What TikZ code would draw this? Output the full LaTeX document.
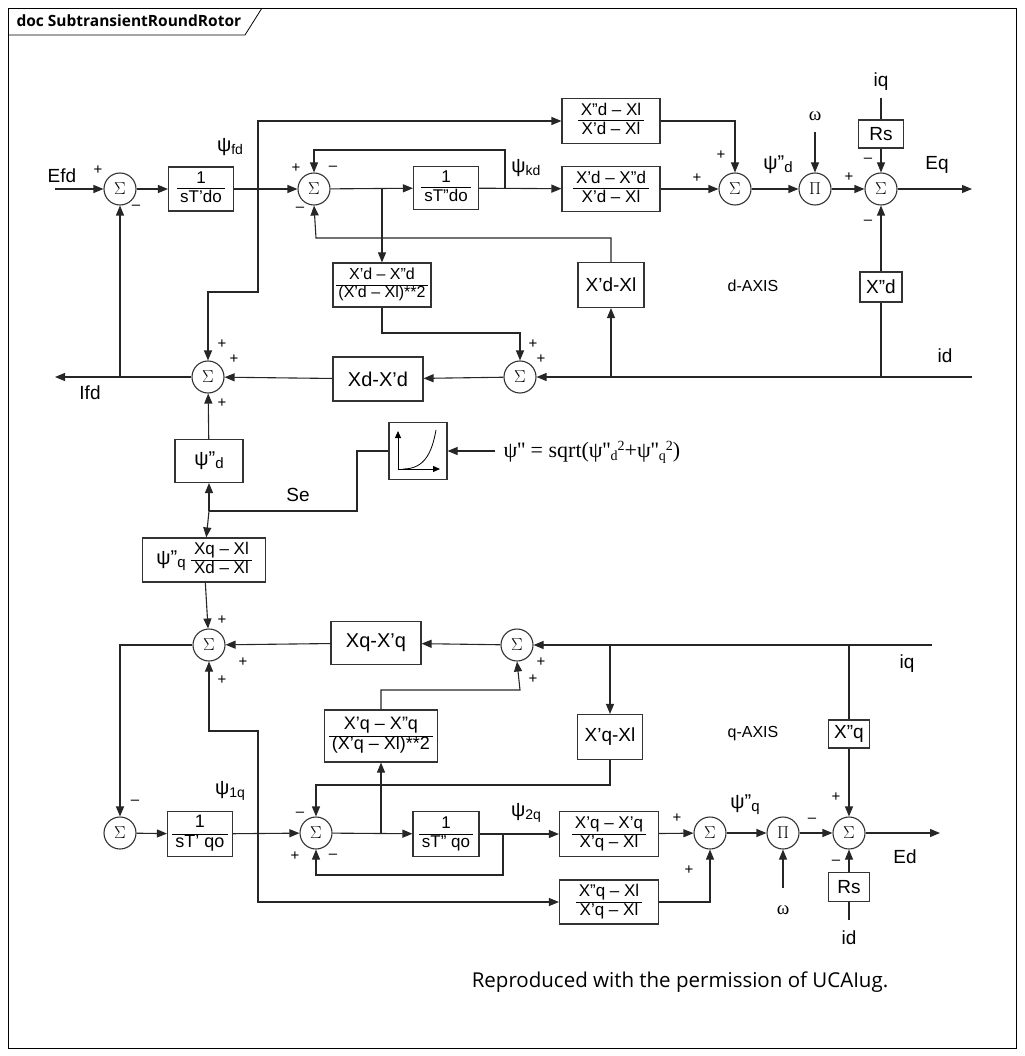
\documentclass[tikz,border=0pt]{standalone}
\usepackage{fontspec}
\setmainfont{Liberation Sans}
\newfontfamily\serifx{Liberation Serif}
\newfontfamily\uifont{Open Sans}
\usetikzlibrary{arrows.meta}
\newcommand{\frc}[2]{\setlength{\arrayrulewidth}{1pt}\renewcommand{\arraystretch}{1.0}\begin{tabular}{@{\,}c@{\,}}#1\\\hline #2\end{tabular}}
\newcommand{\psub}[2]{ψ#1\raisebox{-3pt}{\fontsize{14}{14}\selectfont #2}}
\begin{document}
\begin{tikzpicture}[x=1pt,y=-1pt,
  every node/.style={font=\fontsize{18}{20}\selectfont},
  ln/.style={line width=1.1pt,draw=black!85},
  arr/.style={ln,-{Triangle[length=10pt,width=8pt]}},
  blk/.style={draw=black!80,line width=1.1pt,inner sep=0pt,font=\fontsize{17}{18}\selectfont},
  sm/.style={draw=black!80,line width=1.1pt,circle,minimum size=32pt,inner sep=0pt,font=\fontsize{18}{18}\selectfont},
  sg/.style={font=\fontsize{15}{15}\selectfont,inner sep=0pt}]
\useasboundingbox (0,0) rectangle (1024,1056);
% frame
\draw[line width=0.8pt] (8,8) rectangle (1016,1048);
\draw[line width=0.8pt] (8,35) -- (245,35) -- (262,8);
\node[anchor=west,font=\uifont\bfseries\fontsize{15.5}{15.5}\selectfont] (title) at (13,21) {doc SubtransientRoundRotor};
\node[font=\uifont\fontsize{20.5}{20.5}\selectfont] (foot) at (680,982) {Reproduced with the permission of UCAIug.};

% ---- d axis ----
\node[sm] (S1) at (120,189) {$\Sigma$};
\node[blk,minimum width=65pt,minimum height=44pt] (B1) at (201,189) {\frc{1}{sT'do}};
\node[sm] (S2) at (314,189) {$\Sigma$};
\node[blk,minimum width=65pt,minimum height=43pt] (B2) at (446,188) {\frc{1}{sT''do}};
\node[blk,minimum width=98pt,minimum height=45pt] (B3) at (611,121) {\frc{X''d -- Xl}{X'd -- Xl}};
\node[blk,minimum width=98pt,minimum height=45pt] (B4) at (611,189) {\frc{X'd -- X''d}{X'd -- Xl}};
\node[sm] (S3) at (735,189) {$\Sigma$};
\node[sm] (P1) at (815,189) {$\Pi$};
\node[sm] (S4) at (881,189) {$\Sigma$};
\node[blk,minimum width=45pt,minimum height=28pt,font=\fontsize{19}{19}\selectfont] (Rs1) at (881,134) {Rs};
\node[blk,minimum width=42pt,minimum height=30pt,font=\fontsize{19}{19}\selectfont] (Xdd) at (881,287) {X''d};
\node[blk,minimum width=66pt,minimum height=45pt,font=\fontsize{19}{19}\selectfont] (XdXl) at (611,285) {X'd-Xl};
\node[blk,minimum width=98pt,minimum height=44pt,font=\fontsize{16}{17}\selectfont] (B5) at (382,285) {\frc{X'd -- X''d}{(X'd -- Xl)**2}};
\node[sm] (S6) at (520,377) {$\Sigma$};
\node[blk,minimum width=90pt,minimum height=44pt,font=\fontsize{20}{20}\selectfont] (XdXpd) at (378,379) {Xd-X'd};
\node[sm] (S5) at (208,377) {$\Sigma$};

\node[font=\fontsize{19}{19}\selectfont] (Efd) at (62,176) {Efd};
\node[font=\fontsize{19}{19}\selectfont] (Ifd) at (90,393) {Ifd};
\node[font=\fontsize{20}{20}\selectfont] (psifd) at (230,147) {\psub{}{fd}};
\node[font=\fontsize{20}{20}\selectfont] (psikd) at (526,168) {\psub{}{kd}};
\node[font=\fontsize{20}{20}\selectfont] (psidd) at (778,165) {ψ''\raisebox{-3pt}{\fontsize{15}{15}\selectfont d}};
\node[font=\serifx\fontsize{19}{19}\selectfont] (om1) at (815,116) {ω};
\node[font=\fontsize{19}{19}\selectfont] (iq1) at (881,82) {iq};
\node[font=\fontsize{19}{19}\selectfont] (Eq) at (937,165) {Eq};
\node[font=\fontsize{19}{19}\selectfont] (id1) at (945,356) {id};
\node[font=\fontsize{16}{16}\selectfont] (dax) at (753,286) {d-AXIS};

\coordinate (efdin) at (55,189);
\coordinate (ifdout) at (55,377);
\coordinate (eqout) at (972,189);
\coordinate (idin) at (972,377);
\coordinate (iqin1) at (881,98);
\coordinate (omin1) at (815,132);

\draw[arr] (efdin) -- (S1);
\draw[arr] (S1) -- (B1);
\draw[arr] (B1) -- (S2);
\draw[arr] (S2) -- (B2);
\draw[arr] (B2) -- (B4);
\draw[arr] (B4) -- (S3);
\draw[arr] (S3) -- (P1);
\draw[arr] (P1) -- (S4);
\draw[arr] (S4) -- (eqout);
\draw[arr] (B3.east) -| (S3);
\draw[arr] (omin1) -- (P1);
\draw[ln] (iqin1) -- (Rs1);
\draw[arr] (Rs1) -- (S4);
\draw[arr] (Xdd) -- (S4);
\draw[ln] (Xdd.south) -- (881,377);
\draw[arr] (idin) -- (S6);
\draw[arr] (611,377) -- (XdXl);
\draw[arr] (XdXl.north) |- (316,238) -- (S2.south);
\draw[arr] (505,189) |- (314,150) -- (S2.north);
\draw[arr] (382,189) -- (B5);
\draw[arr] (B5.south) |- (520,333) -- (S6.north);
\draw[arr] (S6) -- (XdXpd);
\draw[arr] (XdXpd) -- (S5);
\draw[arr] (S5) -- (ifdout);
\draw[arr] (120,377) -- (S1);
\draw[arr] (258,189) -- (258,292) -| (S5.north);
\draw[arr] (258,189) |- (B3.west);

% signs d
\node[sg] at (98,170) {+};
\node[sg] at (136,207) {--};
\node[sg] at (296,168) {+};
\node[sg] at (333,168) {--};
\node[sg] at (300,209) {--};
\node[sg] at (721,155) {+};
\node[sg] at (697,178) {+};
\node[sg] at (849,177) {+};
\node[sg] at (868,160) {--};
\node[sg] at (868,222) {--};
\node[sg] at (533,344) {+};
\node[sg] at (541,359) {+};
\node[sg] at (222,344) {+};
\node[sg] at (234,359) {+};
\node[sg] at (222,403) {+};

% ---- middle ----
\node[blk,minimum width=68pt,minimum height=43pt,font=\fontsize{20}{20}\selectfont] (psid) at (209,461) {ψ''\raisebox{-3pt}{\fontsize{15}{15}\selectfont d}};
\node[blk,minimum width=58pt,minimum height=57pt] (sat) at (418,451) {};
\draw[line width=1pt,-{Triangle[length=7pt,width=6pt]}] (398,469) -- (398,431);
\draw[line width=1pt,-{Triangle[length=7pt,width=6pt]}] (398,469) -- (440,469);
\draw[line width=0.8pt] (403,469) .. controls (425,469) and (432,452) .. (436,430);
\node[anchor=west,font=\serifx\fontsize{22}{22}\selectfont] (form) at (500,452) {ψ'' = sqrt(ψ''\raisebox{-3pt}{\fontsize{14}{14}\selectfont d}\raisebox{7pt}{\fontsize{14}{14}\selectfont 2}+ψ''\raisebox{-3pt}{\fontsize{14}{14}\selectfont q}\raisebox{7pt}{\fontsize{14}{14}\selectfont 2})};
\draw[arr] (495,451) -- (sat);
\node[blk,minimum width=123pt,minimum height=44pt] (psiq) at (204,560) {\fontsize{20}{20}\selectfont ψ''\raisebox{-3pt}{\fontsize{15}{15}\selectfont q} \fontsize{17}{18}\selectfont\frc{Xq -- Xl}{Xd -- Xl}};
\node[font=\fontsize{19}{19}\selectfont] (Se) at (298,495) {Se};
\coordinate (sej) at (209,511);
\draw[ln] (sat.west) -- (357,451) |- (sej);
\draw[arr] (sej) -- (psid);
\draw[arr] (sej) -- (psiq);
\draw[arr] (psid) -- (S5);

% ---- q axis ----
\node[sm] (S7) at (209,645) {$\Sigma$};
\node[blk,minimum width=90pt,minimum height=43pt,font=\fontsize{20}{20}\selectfont] (XqXpq) at (376,643) {Xq-X'q};
\node[sm] (S8) at (517,645) {$\Sigma$};
\node[blk,minimum width=65pt,minimum height=45pt,font=\fontsize{19}{19}\selectfont] (XqXl) at (610,737) {X'q-Xl};
\node[blk,minimum width=41pt,minimum height=28pt,font=\fontsize{19}{19}\selectfont] (Xqq) at (849,734) {X''q};
\node[blk,minimum width=113pt,minimum height=52pt,font=\fontsize{18}{19}\selectfont] (B6) at (381,736) {\frc{X'q -- X''q}{(X'q -- Xl)**2}};
\node[sm] (S9) at (120,833) {$\Sigma$};
\node[blk,minimum width=65pt,minimum height=45pt,font=\fontsize{18}{19}\selectfont] (B7) at (200,834) {\frc{1}{sT' qo}};
\node[sm] (S10) at (316,833) {$\Sigma$};
\node[blk,minimum width=66pt,minimum height=45pt] (B8) at (446,834) {\frc{1}{sT'' qo}};
\node[blk,minimum width=99pt,minimum height=45pt] (B9) at (609,834) {\frc{X'q -- X'q}{X'q -- Xl}};
\node[blk,minimum width=99pt,minimum height=44pt] (B10) at (609,902) {\frc{X''q -- Xl}{X'q -- Xl}};
\node[sm] (S11) at (710,833) {$\Sigma$};
\node[sm] (P2) at (783,833) {$\Pi$};
\node[sm] (S12) at (849,833) {$\Sigma$};
\node[blk,minimum width=41pt,minimum height=29pt,font=\fontsize{19}{19}\selectfont] (Rs2) at (849,887) {Rs};

\node[font=\fontsize{19}{19}\selectfont] (iq2) at (907,664) {iq};
\node[font=\fontsize{16}{16}\selectfont] (qax) at (753,734) {q-AXIS};
\node[font=\fontsize{20}{20}\selectfont] (psi1q) at (230,791) {\psub{}{1q}};
\node[font=\fontsize{20}{20}\selectfont] (psi2q) at (526,813) {\psub{}{2q}};
\node[font=\fontsize{20}{20}\selectfont] (psiqq) at (745,805) {ψ''\raisebox{-3pt}{\fontsize{15}{15}\selectfont q}};
\node[font=\serifx\fontsize{19}{19}\selectfont] (om2) at (783,910) {ω};
\node[font=\fontsize{19}{19}\selectfont] (id2) at (849,938) {id};
\node[font=\fontsize{19}{19}\selectfont] (Ed) at (905,857) {Ed};

\coordinate (iqin2) at (932,645);
\coordinate (edout) at (940,833);
\coordinate (omin2) at (783,888);
\coordinate (idin2) at (849,920);

\draw[arr] (psiq) -- (S7);
\draw[arr] (iqin2) -- (S8);
\draw[arr] (S8) -- (XqXpq);
\draw[arr] (XqXpq) -- (S7);
\draw[arr] (610,645) -- (XqXl);
\draw[ln] (849,645) -- (Xqq);
\draw[arr] (Xqq) -- (S12);
\draw[arr] (XqXl.south) |- (316,785) -- (S10.north);
\draw[arr] (S7.west) -| (S9.north);
\draw[arr] (S9) -- (B7);
\draw[arr] (B7) -- (S10);
\draw[arr] (S10) -- (B8);
\draw[arr] (381,833) -- (B6);
\draw[arr] (B6.north) |- (520,690) -- (S8.south);
\draw[arr] (B8) -- (B9);
\draw[arr] (503,833) |- (316,875) -- (S10.south);
\draw[arr] (B9) -- (S11);
\draw[arr] (B10.east) -| (S11.south);
\draw[arr] (S11) -- (P2);
\draw[arr] (P2) -- (S12);
\draw[arr] (omin2) -- (P2);
\draw[arr] (S12) -- (edout);
\draw[ln] (idin2) -- (Rs2);
\draw[arr] (Rs2) -- (S12);
\draw[arr] (258,833) |- (B10.west);
\draw[arr] (258,833) |- (209,731) -- (S7.south);

% signs q
\node[sg] at (222,620) {+};
\node[sg] at (243,662) {+};
\node[sg] at (222,680) {+};
\node[sg] at (541,662) {+};
\node[sg] at (533,679) {+};
\node[sg] at (135,802) {--};
\node[sg] at (300,814) {--};
\node[sg] at (295,856) {+};
\node[sg] at (333,856) {--};
\node[sg] at (677,818) {+};
\node[sg] at (689,870) {+};
\node[sg] at (812,820) {--};
\node[sg] at (836,797) {+};
\node[sg] at (836,862) {--};
\end{tikzpicture}
\end{document}
